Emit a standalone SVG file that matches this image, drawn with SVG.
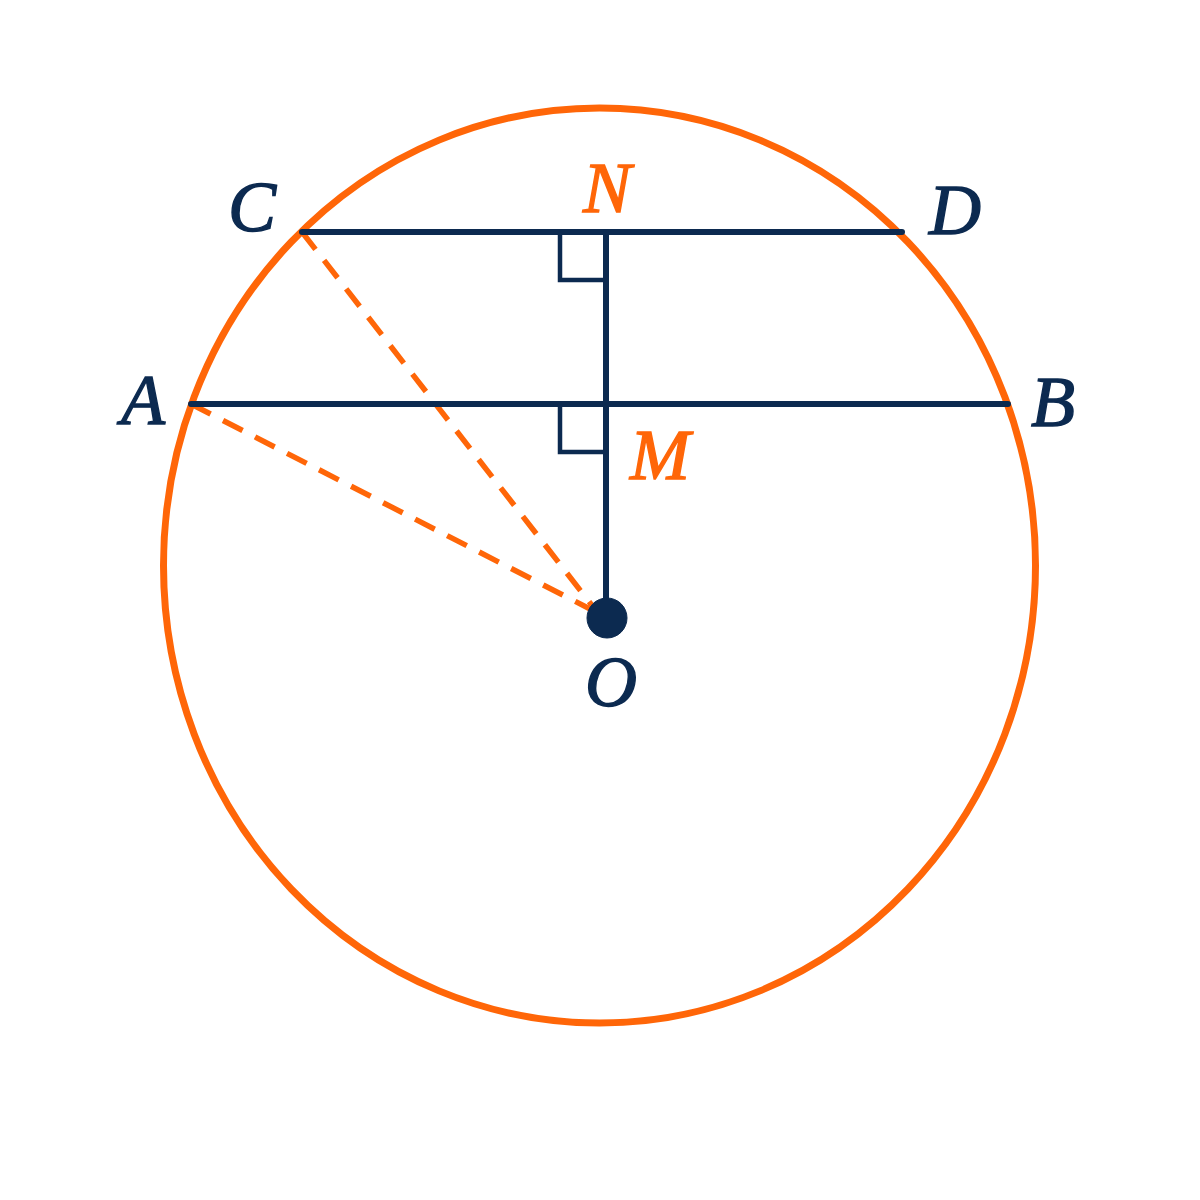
<svg xmlns="http://www.w3.org/2000/svg" width="1200" height="1200" viewBox="0 0 1200 1200">
<style>
.circ{fill:none;stroke:#ff6608;stroke-width:7}
.seg{stroke:#0c2a50;stroke-width:6;stroke-linecap:round;fill:none}
.ra{stroke:#0c2a50;stroke-width:4.5;fill:none}
.dash{stroke:#ff6608;stroke-width:5.5;stroke-dasharray:22 14;fill:none}
.lbl{font-family:"Liberation Serif","Times New Roman",serif;font-style:italic;font-weight:normal;font-size:72px;text-anchor:middle;stroke-width:1.4}
.navy{fill:#0c2a50;stroke:#0c2a50}
.orange{fill:#ff6608;stroke:#ff6608}
</style>
<rect width="1200" height="1200" fill="#ffffff"/>
<g id="circle">
<ellipse class="circ" cx="599.5" cy="565.5" rx="436" ry="457.5"/>
</g>
<g id="connectors">
<line class="dash" x1="302" y1="232" x2="594" y2="608"/>
<line class="dash" x1="191" y1="404" x2="592" y2="610"/>
<line class="seg" x1="302" y1="232" x2="902" y2="232"/>
<line class="seg" x1="191" y1="404" x2="1008" y2="404"/>
<line class="seg" x1="606" y1="232" x2="606" y2="618"/>
<polyline class="ra" points="560,232 560,280 606,280"/>
<polyline class="ra" points="560,404 560,452 606,452"/>
</g>
<g id="O"><circle class="navy" cx="607" cy="618" r="20"/><text class="lbl navy" x="611" y="706">O</text></g>
<g id="A"><text class="lbl navy" x="143" y="424">A</text></g>
<g id="B"><text class="lbl navy" x="1053" y="426">B</text></g>
<g id="C"><text class="lbl navy" x="252" y="231">C</text></g>
<g id="D"><text class="lbl navy" x="955" y="234">D</text></g>
<g id="N"><text class="lbl orange" x="607" y="212">N</text></g>
<g id="M"><text class="lbl orange" x="660" y="479">M</text></g>
</svg>
